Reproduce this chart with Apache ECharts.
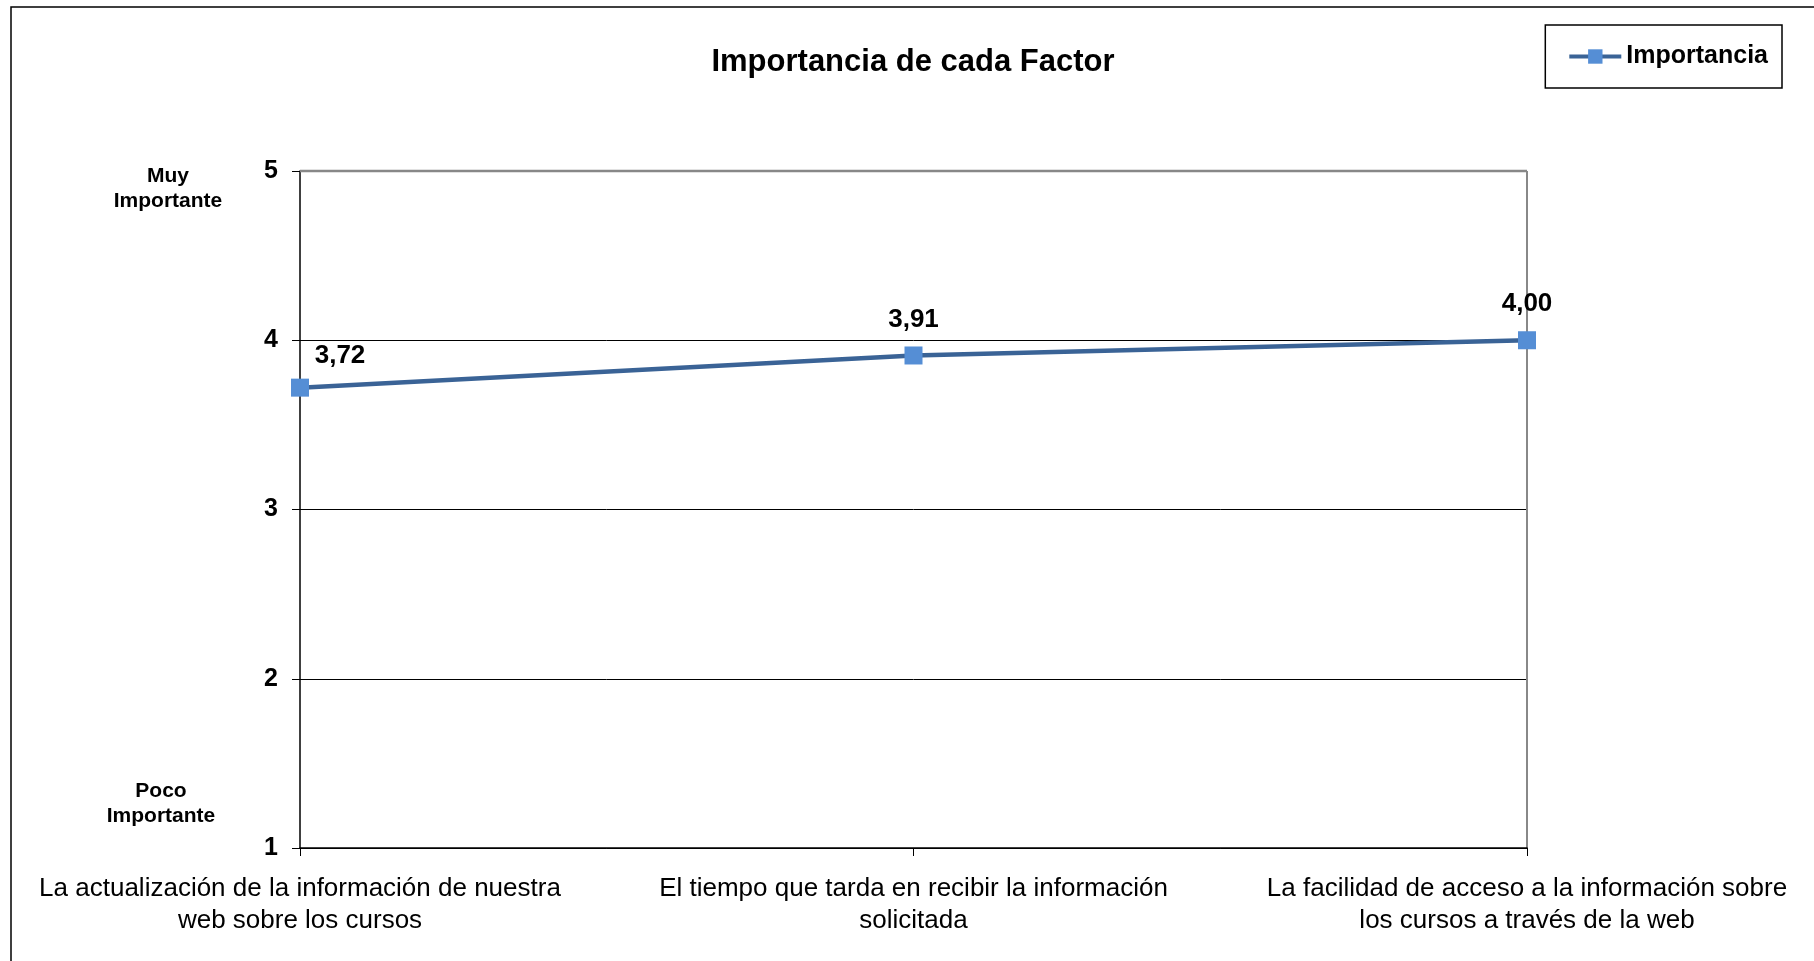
<!DOCTYPE html>
<html>
<head>
<meta charset="utf-8">
<title>Importancia de cada Factor</title>
<script src="https://cdn.jsdelivr.net/npm/echarts@6/dist/echarts.min.js"></script>
<style>
  html, body { margin: 0; padding: 0; background: #fff; }
  #chart { width: 1814px; height: 961px; }
</style>
</head>
<body>
<div id="chart"></div>
<script>
// datos
const factores = [
  'La actualización de la información de nuestra\nweb sobre los cursos',
  'El tiempo que tarda en recibir la información\nsolicitada',
  'La facilidad de acceso a la información sobre\nlos cursos a través de la web'
];
const importancia = [3.72, 3.91, 4.00];
const serieNombre = 'Importancia';

const fuente = 'Liberation Sans, Arial, sans-serif';

const chart = echarts.init(document.getElementById('chart'));

// etiqueta del primer punto va a la derecha
const datos = importancia.map((v, i) => {
  if (i === 0) {
    return { value: v, label: { position: 'top', offset: [40, 4] } };
  }
  return v;
});

chart.setOption({
  animation: false,
  backgroundColor: '#fff',
  textStyle: { fontFamily: fuente },
  title: {
    text: 'Importancia de cada Factor',
    left: 908,
    top: 42,
    textAlign: 'center',
    textStyle: { fontSize: 31, fontWeight: 'bold', color: '#000', fontFamily: fuente }
  },
  legend: {
    data: [serieNombre],
    right: 32,
    top: 25,
    padding: [19, 14, 19, 22],
    borderColor: '#000',
    borderWidth: 1.5,
    itemWidth: 52,
    itemHeight: 18,
    itemGap: 4,
    lineStyle: { width: 4, color: '#3A6396' },
    textStyle: { fontSize: 25, fontWeight: 'bold', color: '#000', fontFamily: fuente }
  },
  grid: { left: 300, right: 287, top: 171, bottom: 113 },
  xAxis: {
    type: 'category',
    boundaryGap: false,
    data: factores,
    axisLine: { lineStyle: { color: '#000', width: 1.5 } },
    axisTick: { show: true, alignWithLabel: true, length: 8, lineStyle: { color: '#000' } },
    axisLabel: {
      interval: 0,
      hideOverlap: false,
      fontSize: 26,
      color: '#000',
      margin: 25,
      lineHeight: 32,
      align: 'center',
      fontFamily: fuente
    },
    splitLine: { show: true, lineStyle: { color: '#888', width: 2 }, interval: i => i === 2 }
  },
  yAxis: {
    type: 'value',
    min: 1,
    max: 5,
    interval: 1,
    axisLine: { show: true, lineStyle: { color: '#000', width: 1.5 } },
    axisTick: { show: true, length: 8, lineStyle: { color: '#000' } },
    axisLabel: { fontSize: 25, fontWeight: 'bold', color: '#000', margin: 22, fontFamily: fuente },
    splitLine: { show: true, lineStyle: { color: '#000', width: 1 } }
  },
  graphic: [
    {
      type: 'rect',
      silent: true,
      shape: { x: 11, y: 7, width: 2000, height: 1200 },
      style: { fill: 'none', stroke: '#000', lineWidth: 1.5 }
    },
    {
      type: 'line',
      silent: true,
      shape: { x1: 300, y1: 171, x2: 1527, y2: 171 },
      style: { stroke: '#888', lineWidth: 2.5 },
      z: 5
    },
    {
      type: 'text',
      silent: true,
      x: 168,
      y: 164,
      style: {
        text: 'Muy\nImportante',
        align: 'center',
        verticalAlign: 'top',
        fontSize: 21,
        fontWeight: 'bold',
        lineHeight: 25,
        fill: '#000',
        fontFamily: fuente
      }
    },
    {
      type: 'text',
      silent: true,
      x: 161,
      y: 779,
      style: {
        text: 'Poco\nImportante',
        align: 'center',
        verticalAlign: 'top',
        fontSize: 21,
        fontWeight: 'bold',
        lineHeight: 25,
        fill: '#000',
        fontFamily: fuente
      }
    }
  ],
  series: [{
    name: serieNombre,
    type: 'line',
    data: datos,
    symbol: 'rect',
    symbolSize: 18,
    lineStyle: { color: '#3A6396', width: 4.5 },
    itemStyle: { color: '#558ED5' },
    label: {
      show: true,
      position: 'top',
      distance: 14,
      fontSize: 26,
      fontWeight: 'bold',
      color: '#000',
      fontFamily: fuente,
      formatter: p => p.value.toFixed(2).replace('.', ',')
    },
    z: 10
  }]
});
</script>
</body>
</html>
